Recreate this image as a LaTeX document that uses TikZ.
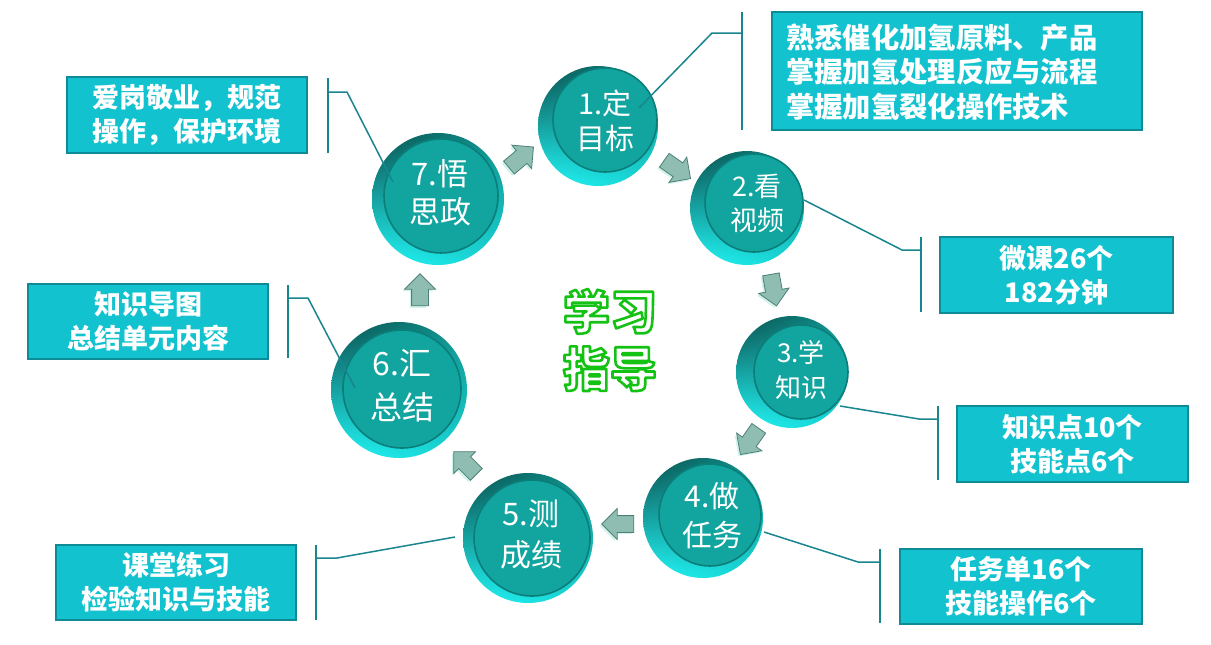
\documentclass[tikz,border=0pt]{standalone}
\usepackage{fontspec}
\newfontfamily\cjk{Noto Sans CJK SC}
\usetikzlibrary{shapes.arrows,shadings}
\definecolor{boxfill}{HTML}{12C2CF}
\definecolor{boxedge}{HTML}{0E8B97}
\definecolor{lineteal}{HTML}{18858F}
\definecolor{rimdark}{HTML}{0A4E4C}
\definecolor{rimmid}{HTML}{109590}
\definecolor{rimlight}{HTML}{22F6F6}
\definecolor{rimlight2}{HTML}{18D2D2}
\definecolor{facecol}{HTML}{12A49F}
\definecolor{faceedge}{HTML}{0C7E7A}
\definecolor{arrowfill}{HTML}{8FBDB1}
\definecolor{arrowedge}{HTML}{4E8176}
\definecolor{arrowlight}{HTML}{D2F2EC}
\newcommand\outlineon{\special{pdf:literal direct 2 Tr 2.6 w 1 J 1 j 0.08 0.76 0.08 RG}}
\newcommand\outlineoff{\special{pdf:literal direct 0 Tr}}
\begin{document}
\begin{tikzpicture}[x=1pt,y=-1pt,
  rim/.style={circle, inner sep=0pt, upper left=rimdark, upper right=rimmid, lower left=rimlight, lower right=rimlight2},
  face/.style={circle, inner sep=0pt, fill=facecol, draw=faceedge, line width=1.6pt},
  disctext/.style={text=white, align=center, inner sep=0pt},
  box/.style={draw=boxedge, fill=boxfill, line width=2pt, inner sep=0pt},
  boxtext/.style={text=white, align=center, inner sep=0pt, font=\cjk\bfseries\fontsize{27}{34}\selectfont},
  callout/.style={draw=lineteal, line width=1.5pt},
  bracket/.style={draw=lineteal, line width=1.8pt},
  flowarrow/.style={single arrow, fill=arrowfill, draw=arrowedge, line width=0.8pt, minimum height=32pt, inner sep=8pt, single arrow head extend=7pt, single arrow tip angle=90},
  shadowarrow/.style={single arrow, fill=arrowlight, draw=none, minimum height=32pt, inner sep=8pt, single arrow head extend=7pt, single arrow tip angle=90},
  titlefont/.style={align=center, inner sep=0pt, font=\cjk\bfseries\fontsize{47}{57}\selectfont}
]
\fill[white] (0,0) rectangle (1211,645);
\useasboundingbox (0,0) rectangle (1211,645);

% ---------- discs ----------
\node[rim, minimum size=120pt] (c1) at (598,126) {};
\node[face, minimum size=104pt] (c1f) at (605,120) {};
\node[disctext, font=\cjk\fontsize{29}{35}\selectfont] (c1t) at (605,121) {1.定\\目标};

\node[rim, minimum size=114pt] (c2) at (747,208) {};
\node[face, minimum size=98pt] (c2f) at (754,203) {};
\node[disctext, font=\cjk\fontsize{27}{34}\selectfont] (c2t) at (757,203) {2.看\\视频};

\node[rim, minimum size=112pt] (c3) at (792,372) {};
\node[face, minimum size=94pt] (c3f) at (801,372) {};
\node[disctext, font=\cjk\fontsize{26}{35}\selectfont] (c3t) at (801,370) {3.学\\知识};

\node[rim, minimum size=120pt] (c4) at (703,518) {};
\node[face, minimum size=102pt] (c4f) at (710,515) {};
\node[disctext, font=\cjk\fontsize{30}{39}\selectfont] (c4t) at (712,516) {4.做\\任务};

\node[rim, minimum size=130pt] (c5) at (528,538) {};
\node[face, minimum size=116pt] (c5f) at (532,538) {};
\node[disctext, font=\cjk\fontsize{31}{41}\selectfont] (c5t) at (531,534) {5.测\\成绩};

\node[rim, minimum size=136pt] (c6) at (399,390) {};
\node[face, minimum size=118pt] (c6f) at (402,389) {};
\node[disctext, font=\cjk\fontsize{32}{44}\selectfont] (c6t) at (402,386) {6.汇\\总结};

\node[rim, minimum size=132pt] (c7) at (438,199) {};
\node[face, minimum size=114pt] (c7f) at (441,196) {};
\node[disctext, font=\cjk\fontsize{31}{38}\selectfont] (c7t) at (440,193) {7.悟\\思政};

% ---------- flow arrows ----------
\node[shadowarrow, rotate=-35] (a12s) at (672,169) {};
\node[flowarrow, rotate=-35] (a12) at (674,167) {};
\node[shadowarrow, rotate=-80] (a23s) at (771,288) {};
\node[flowarrow, rotate=-80] (a23) at (773,286) {};
\node[shadowarrow, rotate=-125] (a34s) at (750,440) {};
\node[flowarrow, rotate=-125] (a34) at (752,438) {};
\node[shadowarrow, rotate=180] (a45s) at (620,526) {};
\node[flowarrow, rotate=180] (a45) at (622,524) {};
\node[shadowarrow, rotate=135] (a56s) at (466,468) {};
\node[flowarrow, rotate=135] (a56) at (468,466) {};
\node[shadowarrow, rotate=90] (a67s) at (418,296) {};
\node[flowarrow, rotate=90] (a67) at (420,294) {};
\node[shadowarrow, rotate=40] (a71s) at (516,162) {};
\node[flowarrow, rotate=40] (a71) at (518,160) {};

% ---------- boxes ----------
\node[box, minimum width=370pt, minimum height=118pt] (b1) at (957,71) {};
\node[boxtext, align=left, anchor=west, font=\cjk\bfseries\fontsize{28.3}{34.5}\selectfont] (b1t) at (786,72) {熟悉催化加氢原料、产品\\掌握加氢处理反应与流程\\掌握加氢裂化操作技术};
\node[box, boxtext, minimum width=233pt, minimum height=76pt] (b2) at (1056.5,275) {微课26个\\182分钟};
\node[box, boxtext, minimum width=231pt, minimum height=76pt] (b3) at (1072.5,444) {知识点10个\\技能点6个};
\node[box, boxtext, minimum width=242pt, minimum height=75pt] (b4) at (1021,586.5) {任务单16个\\技能操作6个};
\node[box, boxtext, minimum width=240pt, minimum height=75pt] (b5) at (176,582.5) {课堂练习\\检验知识与技能};
\node[box, boxtext, minimum width=240pt, minimum height=75pt] (b6) at (148,321.5) {知识导图\\总结单元内容};
\node[box, boxtext, minimum width=240pt, minimum height=76pt] (b7) at (187,115) {爱岗敬业，规范\\操作，保护环境};

% ---------- callouts ----------
\coordinate (p1) at (639,108); \coordinate (e1) at (712,33); \coordinate (k1) at (742,33);
\coordinate (k1t) at (742,12); \coordinate (k1b) at (742,130);
\draw[callout] (p1) -- (e1) -- (k1);
\draw[bracket] (k1t) -- (k1b);

\coordinate (p2) at (804,200); \coordinate (e2) at (902,250); \coordinate (k2) at (921,250);
\coordinate (k2t) at (921,237); \coordinate (k2b) at (921,312);
\draw[callout] (p2) -- (e2) -- (k2);
\draw[bracket] (k2t) -- (k2b);

\coordinate (p3) at (840,406); \coordinate (e3) at (919,419); \coordinate (k3) at (938,419);
\coordinate (k3t) at (938,406); \coordinate (k3b) at (938,480);
\draw[callout] (p3) -- (e3) -- (k3);
\draw[bracket] (k3t) -- (k3b);

\coordinate (p4) at (764,532); \coordinate (e4) at (858,562); \coordinate (k4) at (880,562);
\coordinate (k4t) at (880,549); \coordinate (k4b) at (880,623);
\draw[callout] (p4) -- (e4) -- (k4);
\draw[bracket] (k4t) -- (k4b);

\coordinate (p5) at (455,537); \coordinate (e5) at (337,558); \coordinate (k5) at (316,558);
\coordinate (k5t) at (316,545); \coordinate (k5b) at (316,620);
\draw[callout] (p5) -- (e5) -- (k5);
\draw[bracket] (k5t) -- (k5b);

\coordinate (p6) at (355,388); \coordinate (e6) at (308,298); \coordinate (k6) at (288,298);
\coordinate (k6t) at (288,285); \coordinate (k6b) at (288,358);
\draw[callout] (p6) -- (e6) -- (k6);
\draw[bracket] (k6t) -- (k6b);

\coordinate (p7) at (393,182); \coordinate (e7) at (347,92); \coordinate (k7) at (328,92);
\coordinate (k7t) at (328,78); \coordinate (k7b) at (328,153);
\draw[callout] (p7) -- (e7) -- (k7);
\draw[bracket] (k7t) -- (k7b);

% ---------- centre title ----------
\node[titlefont, text=white] (title) at (610,340) {\outlineon 学习\\指导\outlineoff};
\end{tikzpicture}
\end{document}
